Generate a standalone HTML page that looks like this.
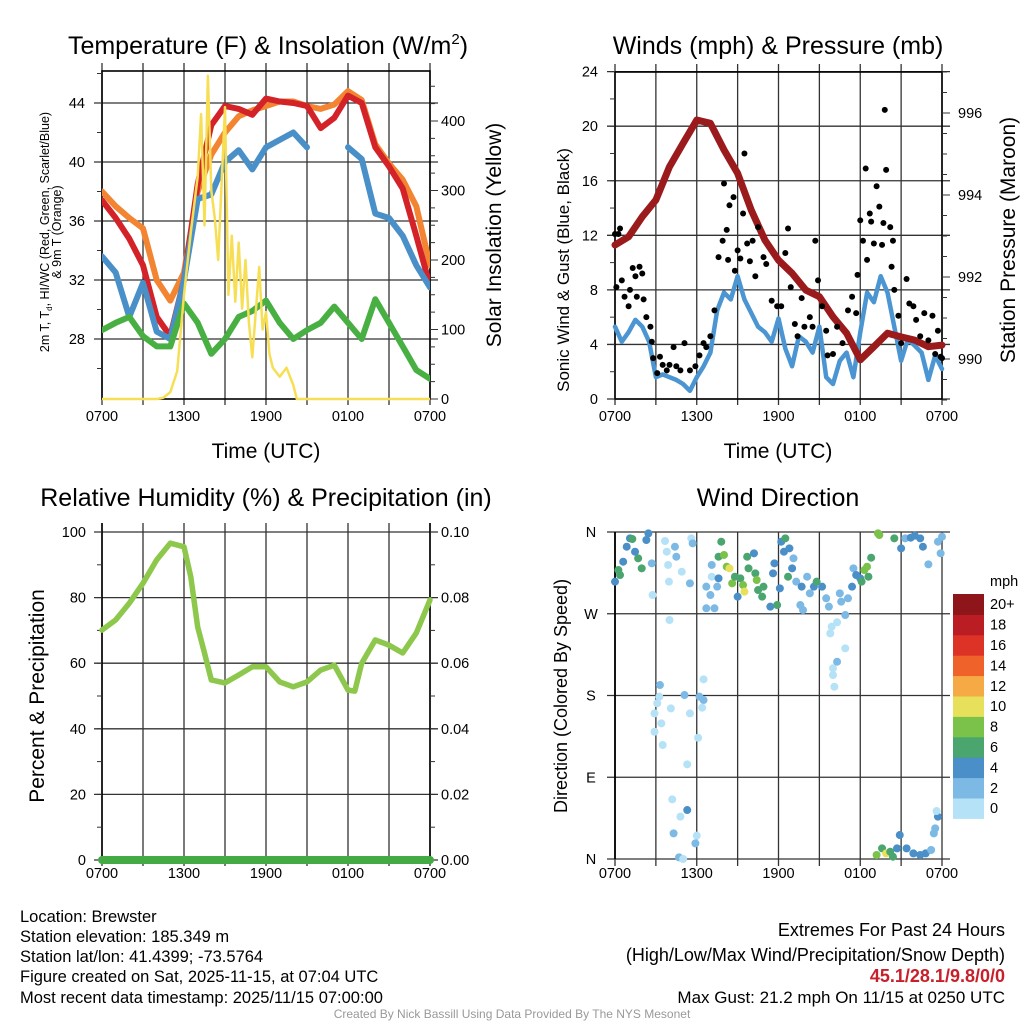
<!DOCTYPE html>
<html><head><meta charset="utf-8">
<style>
html,body{margin:0;padding:0;background:#fff;}
svg{display:block;font-family:"Liberation Sans",Arial,sans-serif;}
</style></head>
<body>
<svg id="chart" width="1024" height="1024" viewBox="0 0 1024 1024" xmlns="http://www.w3.org/2000/svg">
<rect x="0" y="0" width="1024" height="1024" fill="#fff"/>
<g id="g1"></g>
<g id="g2"></g>
<g id="g3"></g>
<g id="g4"></g>
<text x="268" y="54" font-size="25" text-anchor="middle">Temperature (F) &amp; Insolation (W/m<tspan font-size="15" dy="-10">2</tspan><tspan dy="10">)</tspan></text>
<text x="778" y="54" font-size="25" text-anchor="middle">Winds (mph) &amp; Pressure (mb)</text>
<text x="266" y="506" font-size="25" text-anchor="middle">Relative Humidity (%) &amp; Precipitation (in)</text>
<text x="778" y="506" font-size="25" text-anchor="middle">Wind Direction</text>
<text x="266" y="458" font-size="21" text-anchor="middle">Time (UTC)</text>
<text x="778" y="458" font-size="21" text-anchor="middle">Time (UTC)</text>
<text transform="translate(49,232) rotate(-90)" font-size="12.5" text-anchor="middle">2m T, T<tspan font-size="8" dy="3">d</tspan><tspan dy="-3">, HI/WC (Red, Green, Scarlet/Blue)</tspan></text>
<text transform="translate(61,232) rotate(-90)" font-size="12.5" text-anchor="middle">&amp; 9m T (Orange)</text>
<text transform="translate(501,235) rotate(-90)" font-size="21" text-anchor="middle">Solar Insolation (Yellow)</text>
<text transform="translate(569,270) rotate(-90)" font-size="17" text-anchor="middle">Sonic Wind &amp; Gust (Blue, Black)</text>
<text transform="translate(1015,240) rotate(-90)" font-size="21" text-anchor="middle">Station Pressure (Maroon)</text>
<text transform="translate(44,696) rotate(-90)" font-size="21" text-anchor="middle">Percent &amp; Precipitation</text>
<text transform="translate(567,696) rotate(-90)" font-size="18" text-anchor="middle">Direction (Colored By Speed)</text>
<g font-size="16.5">
<text x="20" y="922">Location: Brewster</text>
<text x="20" y="942">Station elevation: 185.349 m</text>
<text x="20" y="962">Station lat/lon: 41.4399; -73.5764</text>
<text x="20" y="982">Figure created on Sat, 2025-11-15, at 07:04 UTC</text>
<text x="20" y="1003">Most recent data timestamp: 2025/11/15 07:00:00</text>
</g>
<g font-size="18" text-anchor="end">
<text x="1005" y="936">Extremes For Past 24 Hours</text>
<text x="1005" y="961">(High/Low/Max Wind/Precipitation/Snow Depth)</text>
<text x="1005" y="982" font-weight="bold" fill="#c8202a">45.1/28.1/9.8/0/0</text>
<text x="1005" y="1003" font-size="17">Max Gust: 21.2 mph On 11/15 at 0250 UTC</text>
</g>
<text x="512" y="1018" font-size="12" fill="#999" text-anchor="middle">Created By Nick Bassill Using Data Provided By The NYS Mesonet</text>
</svg>
<script>
// ---- data ----
const hoursHourly=[0,1,2,3,4,5,6,7,8,9,10,11,12,13,14,15,16,17,18,19,20,21,22,23,24];
const tempRed=[37.4,36.2,34.8,33.0,29.5,28.2,32.0,38.5,42.5,43.8,43.6,43.2,44.3,44.1,44.0,43.8,42.3,43.0,44.5,44.0,41.0,39.7,38.2,35.0,31.6];
const temp9m=[38.0,37.0,36.2,35.5,32.0,30.6,32.5,38.0,40.5,42.0,43.1,43.5,43.8,44.1,44.1,43.8,43.6,43.9,44.8,44.2,41.2,39.9,38.8,37.0,33.0];
const windChill=[33.6,32.5,29.5,31.8,28.5,28.0,32.0,37.5,37.8,40.0,40.8,39.5,41.0,41.5,42.0,41.0,null,null,41.0,40.2,36.5,36.2,35.0,33.0,31.5];
const dewPoint=[28.6,29.1,29.5,28.2,27.5,27.5,30.4,29.1,27.0,28.0,29.5,29.9,30.6,29.1,28.0,28.6,29.1,30.2,29.1,28.0,30.7,29.1,27.5,25.9,25.3];
const solarHours=[0,4,4.5,5,5.5,6,6.5,7,7.25,7.5,7.75,8,8.25,8.5,9,9.25,9.5,9.75,10,10.25,10.5,10.75,11,11.5,11.75,12,12.25,12.5,13,13.5,14,14.25,24];
const solarValues=[0,0,2,10,40,150,240,320,410,250,465,300,260,200,420,150,235,140,225,130,200,110,60,190,100,125,65,45,32,45,20,0,0];
const windHours=[0,0.5,1,1.5,2,2.5,3,3.5,4,4.5,5,5.5,6,6.5,7,7.5,8,8.5,9,9.5,10,10.5,11,11.5,12,12.5,13,13.5,14,14.5,15,15.5,16,16.5,17,17.5,18,18.5,19,19.5,20,20.5,21,21.5,22,22.5,23,23.5,24];
const sonicWind=[5.3,4.2,4.9,5.8,5.3,4.2,1.6,1.8,1.6,1.4,1.1,0.6,1.6,2.4,3.4,6.5,7.8,7.3,9.0,7.3,6.3,5.3,4.9,4.2,5.9,3.7,2.4,4.6,4.2,3.4,5.3,1.6,1.1,2.8,3.4,1.6,4.9,7.8,7.1,9.0,7.8,5.3,2.8,4.4,3.9,3.4,1.4,3.2,2.2];
const pressure=[992.78,992.98,993.47,993.88,994.69,995.26,995.83,995.75,995.1,994.53,993.63,992.9,992.41,992.09,991.68,991.52,991.03,990.63,989.98,990.3,990.63,990.54,990.46,990.3,990.34];
const gustHours=[0,0.1,0.25,0.37,0.5,0.7,1.0,1.1,1.3,1.5,1.6,1.8,2.0,2.1,2.3,2.6,2.7,2.8,3.1,3.3,3.5,3.8,4.0,4.3,4.5,4.8,5.1,5.5,5.9,6.2,6.5,6.7,7.0,7.3,7.6,7.9,8.0,8.2,8.3,8.4,8.7,8.8,9.0,9.2,9.4,9.5,9.7,9.9,10.1,10.3,10.5,10.9,11.1,11.5,11.9,12.2,12.5,12.7,12.9,13.2,13.4,13.7,13.9,14.3,14.5,14.7,14.9,15.2,15.5,15.6,16.0,16.3,16.7,17.1,17.4,17.7,17.8,18.0,18.2,18.4,18.5,18.7,18.8,19.0,19.2,19.4,19.6,19.7,19.8,19.9,20.2,20.3,20.4,20.5,20.8,21.0,21.4,21.6,21.9,22.1,22.4,22.7,23.0,23.3,23.5,23.7,23.9,24.0];
const gustValues=[12.1,8.2,12.1,12.5,8.7,7.5,6.8,8.0,9.6,9.0,7.5,9.7,9.2,7.3,6.0,5.3,4.2,3.0,1.9,3.1,2.5,2.1,2.5,3.8,2.4,2.1,4.1,2.1,2.4,3.2,4.1,3.8,4.6,6.5,10.4,11.6,15.8,12.4,10.2,14.2,14.8,9.4,10.9,10.3,13.6,18.0,11.4,10.1,11.6,9.0,12.6,10.4,9.9,7.2,6.8,6.8,10.7,12.5,8.2,5.5,4.6,7.4,5.3,6.0,5.3,11.6,8.7,6.8,5.0,3.2,3.3,5.3,4.1,6.5,7.5,6.3,9.1,13.1,11.6,16.9,10.2,13.6,13.0,11.4,15.6,14.1,11.3,12.9,21.2,16.8,12.6,9.7,11.6,8.0,6.1,4.1,8.8,7.0,6.8,5.8,4.6,6.3,4.3,6.1,3.3,5.0,3.1,3.0];
const rhHours=[0,1,2,3,4,5,6,6.5,7,7.5,8,9,10,11,12,13,14,15,16,17,18,18.5,19,20,21,22,23,24];
const rhValues=[70.1,73.2,78.3,84.4,91.5,96.6,95.5,86.3,71,63.1,54.9,54,56.4,58.9,58.9,54.3,52.8,54.3,57.9,59.4,51.8,51.5,60,67.1,65.5,63.1,69.2,79.3];
const precipHours=[0,24];
const precipValues=[0,0];
const dirHours=[0,0.25,0.37,0.6,0.86,1.1,1.27,1.47,1.7,1.96,2.3,2.45,2.7,2.76,3.67,3.8,3.9,3.96,4.0,4.4,4.5,4.9,5.5,5.6,5.7,6.7,7.0,6.7,7.1,7.1,7.3,7.5,7.6,7.8,7.6,8.0,8.2,8.4,8.6,8.8,9.0,9.2,9.4,9.5,9.7,9.8,10.2,10.3,10.4,10.5,10.8,10.9,11.4,11.6,11.7,11.9,12.1,12.2,12.5,12.4,12.7,12.8,13.0,13.1,13.3,13.6,13.7,13.8,14.1,14.3,14.6,14.8,15.2,15.5,15.7,16.0,16.1,16.0,16.3,16.9,15.8,15.9,16.3,16.5,16.6,16.9,17.1,17.4,17.5,17.7,18.0,18.1,18.3,18.5,18.6,18.8,19.3,19.4,20.5,21.0,21.3,21.7,22.0,22.4,22.6,23.0,23.7,23.9,24.0,3.3,3.25,3.1,2.9,2.9,3.4,3.5,4.1,5.1,5.5,5.3,6.2,6.5,6.5,6.4,6.1,4.2,4.8,5.3,4.3,5.9,6.0,4.7,5.0,19.2,19.6,19.9,20.2,20.4,20.7,20.9,21.4,21.9,22.4,22.8,23.2,23.4,23.5,23.7,23.6];
const dirDegrees=[305.3,318.1,312.6,327.3,343.8,353,352.3,338.3,331,320,351.2,358.5,325.5,290.6,350.1,338.3,323.7,305.3,263.1,343.8,332.8,316.3,303.5,353,347.5,299.8,290.6,276,323.7,310.8,276,299.8,309,349.3,332.8,334.7,321.8,320,303.5,310.8,288.8,309,301.6,294.3,332.8,320,336.5,314.5,307.1,296.1,288.8,299.8,277.8,314.5,325.5,279.6,298,349.3,353,338.3,310.8,342,320,331,305.3,279.6,299.8,274.1,310.8,292.5,299.8,305.3,299.8,287,277.8,202.5,189.7,210,217.2,231.9,248.4,255.8,260.6,292.5,283.3,268.6,287,299.8,320,312.6,309,305.3,318.1,321.8,310.8,331.7,358.5,356.7,353,342,353,353.7,356,353,343.8,324.4,349.3,336.5,354.8,191.5,178.7,171.4,160.3,140.1,149.3,125.5,165.8,180.5,160.3,104.2,178.7,175,197.8,166.6,133.5,65.7,46.6,53.9,28.2,17.2,25.7,1.8,0,4.4,11.7,6.2,8,2.5,11.7,26.4,11.7,6.2,4.4,6.2,9.9,28.2,33.7,46.6,52.8];
const dirSpeeds=[5,7,7,5,5,5,7,5,7,7,5,5,3,1,1,1,1,1,1,3,3,1,3,1,3,3,3,3,3,1,3,3,5,7,7,9,9,11,9,7,5,7,9,11,7,7,5,7,9,7,7,7,5,5,5,7,5,5,7,5,7,5,5,3,3,3,5,3,3,3,5,7,5,3,3,1,1,1,3,1,1,1,1,3,3,3,3,5,3,5,5,7,9,9,7,7,9,9,7,5,3,5,5,5,5,3,3,3,3,3,1,1,1,1,1,1,1,3,1,1,3,3,1,1,1,1,1,5,3,3,1,3,1,9,7,11,7,7,5,5,5,5,5,5,3,3,3,5,1];
const tempTicks=[28,32,36,40,44];
const solarTicks=[0,100,200,300,400];
const mphTicks=[0,4,8,12,16,20,24];
const presTicks=[990,992,994,996];
const rhTicks=[0,20,40,60,80,100];
const precipTicks=["0.00","0.02","0.04","0.06","0.08","0.10"];
const dirTicks=[0,90,180,270,360];
const dirLabels=["N","E","S","W","N"];
const timeLabels=["0700","1300","1900","0100","0700"];
const speedBins=[0,2,4,6,8,10,12,14,16,18,20];
const speedLabels=["0","2","4","6","8","10","12","14","16","18","20+"];
const binColors=["#b5e2f7","#7cb9e4","#4a8fc8","#4aa56e","#7bc24a","#e6e05a","#f6aa46","#ef6229","#dd3327","#bb1d24","#8e1519"];

// ---- helpers ----
const NS="http://www.w3.org/2000/svg";
function mk(parent,tag,attrs){const e=document.createElementNS(NS,tag);for(const k in attrs)e.setAttribute(k,attrs[k]);parent.appendChild(e);return e;}
function tx(x0,x1){return h=>x0+h*(x1-x0)/24;}
function pathFrom(xs,ys,fx,fy){let d="",pen=false;for(let i=0;i<xs.length;i++){if(ys[i]===null){pen=false;continue;}d+=(pen?"L":"M")+fx(xs[i]).toFixed(1)+","+fy(ys[i]).toFixed(1);pen=true;}return d;}
function grid(g,x0,x1,yTop,yBot,hLines,vTop,vBot){
  for(let i=0;i<=8;i++){const x=x0+i*(x1-x0)/8;const l=mk(g,"line",{x1:x,x2:x,y1:vTop,y2:vBot,stroke:"#333","stroke-width":1.3});
  
  }
  hLines.forEach(y=>{const l=mk(g,"line",{x1:x0-8,x2:x1+8,y1:y,y2:y,stroke:"#333","stroke-width":1.3});
  
  });
}
function timeAxis(g,x0,x1,y){const f=tx(x0,x1);timeLabels.forEach((t,i)=>{const e=mk(g,"text",{x:f(i*6),y:y,"font-size":14.5,"text-anchor":"middle"});e.textContent=t;
  
  });}
function label(g,x,y,t,anchor,size){const e=mk(g,"text",{x:x,y:y,"font-size":size||14.5,"text-anchor":anchor});e.textContent=t;return e;}

// ---- Panel 1 ----
(function(){
const g=document.getElementById("g1");const x0=102,x1=430,yT=71,yB=399;const fx=tx(x0,x1);
const fy=t=>103+(44-t)*14.75;const fs=w=>399-w*0.695;
grid(g,x0,x1,yT,yB,tempTicks.map(fy),63,405);
const box=mk(g,"rect",{x:x0,y:yT,width:x1-x0,height:yB-yT,fill:"none",stroke:"#000","stroke-width":1.6});


for(let t=26;t<=46;t+=2){mk(g,"line",{x1:x0-5,x2:x0,y1:fy(t),y2:fy(t),stroke:"#333"});}
for(let w=0;w<=450;w+=25){mk(g,"line",{x1:x1,x2:x1+(w%100===0?8:5),y1:fs(w),y2:fs(w),stroke:"#333"});}
tempTicks.forEach(t=>{const e=label(g,85,fy(t)+5,String(t),"end");

});
solarTicks.forEach(w=>{const e=label(g,441,fs(w)+5,String(w),"start");

});
timeAxis(g,x0,x1,421);
const cp=mk(g,"clipPath",{id:"c1"});mk(cp,"rect",{x:x0,y:yT,width:x1-x0,height:yB-yT+3});
const pg=mk(g,"g",{"clip-path":"url(#c1)","fill":"none","stroke-linejoin":"round","stroke-linecap":"round"});
const s=[[temp9m,"#f28432","temp-9m-line"],[tempRed,"#d32228","temp-2m-line"],[windChill,"#4a90c8","wind-chill-line"],[dewPoint,"#48b043","dewpoint-line"]];
s.forEach(([arr,c,n])=>{const p=mk(pg,"path",{d:pathFrom(hoursHourly,arr,fx,fy),stroke:c,"stroke-width":6});

});
const sp=mk(pg,"path",{d:pathFrom(solarHours,solarValues,fx,fs),stroke:"#f7df55","stroke-width":2.5});


})();

// ---- Panel 2 ----
(function(){
const g=document.getElementById("g2");const x0=615,x1=942,yT=72,yB=399;const fx=tx(x0,x1);
const fy=m=>399-m*13.64;const fp=p=>113+(996-p)*41;
grid(g,x0,x1,yT,yB,mphTicks.map(fy),64,405);
const box=mk(g,"rect",{x:x0,y:yT,width:x1-x0,height:yB-yT,fill:"none",stroke:"#000","stroke-width":1.6});


for(let p=989;p<=997.01;p+=0.5){mk(g,"line",{x1:x1,x2:x1+(Math.abs(p%2)<0.01?8:5),y1:fp(p),y2:fp(p),stroke:"#333"});}
for(let m=0;m<=24;m+=2){mk(g,"line",{x1:x0-5,x2:x0,y1:fy(m),y2:fy(m),stroke:"#333"});}
mphTicks.forEach(m=>{const e=label(g,598,fy(m)+5,String(m),"end");

});
presTicks.forEach(p=>{const e=label(g,958,fp(p)+5,String(p),"start");

});
timeAxis(g,x0,x1,421);
const pg=mk(g,"g",{"fill":"none","stroke-linejoin":"round","stroke-linecap":"round"});
const w=mk(pg,"path",{d:pathFrom(windHours,sonicWind,fx,fy),stroke:"#4a95d2","stroke-width":4.5});


gustHours.forEach((h,i)=>{const c=mk(g,"circle",{cx:fx(h),cy:fy(gustValues[i]),r:3,fill:"#000"});

});
const pr=mk(pg,"path",{d:pathFrom(hoursHourly,pressure,fx,fp),stroke:"#9b1b1d","stroke-width":7});


})();

// ---- Panel 3 ----
(function(){
const g=document.getElementById("g3");const x0=102,x1=430,yB=860;const fx=tx(x0,x1);
const fy=r=>860-r*3.28;
grid(g,x0,x1,523,yB,rhTicks.map(fy),523,866);
[[x0,523,x0,yB],[x1,523,x1,yB],[x0,yB,x1,yB]].forEach(a=>mk(g,"line",{x1:a[0],y1:a[1],x2:a[2],y2:a[3],stroke:"#000","stroke-width":1.6}));
for(let r=0;r<=100;r+=10){mk(g,"line",{x1:x0-5,x2:x0,y1:fy(r),y2:fy(r),stroke:"#333"});mk(g,"line",{x1:x1,x2:x1+5,y1:fy(r),y2:fy(r),stroke:"#333"});}
rhTicks.forEach(r=>{const e=label(g,86,fy(r)+5,String(r),"end");

});
precipTicks.forEach((t,i)=>{const e=label(g,441,fy(i*20)+5,t,"start");

});
timeAxis(g,x0,x1,878);
const pp=mk(g,"path",{d:pathFrom(precipHours,precipValues.map(v=>v*1000),fx,fy),stroke:"#44aa44","stroke-width":8,"stroke-linecap":"round",fill:"none"});


const rp=mk(g,"path",{d:pathFrom(rhHours,rhValues,fx,fy),stroke:"#8dc84c","stroke-width":5.5,fill:"none","stroke-linejoin":"round","stroke-linecap":"round"});


})();

// ---- Panel 4 ----
(function(){
const g=document.getElementById("g4");const x0=615,x1=942,yT=532,yB=859;const fx=tx(x0,x1);
const fy=d=>859-d*327/360;
grid(g,x0,x1,yT,yB,dirTicks.map(fy),532,866);
mk(g,"line",{x1:x0,y1:yT,x2:x0,y2:yB,stroke:"#000","stroke-width":1.8});
dirTicks.forEach((d,i)=>{const e=label(g,591,fy(d)+5,dirLabels[i],"middle");

});
timeAxis(g,x0,x1,878);
function colorFor(s){let k=0;for(let i=0;i<speedBins.length;i++){if(s>=speedBins[i])k=i;}return binColors[k];}
dirHours.forEach((h,i)=>{const c=mk(g,"circle",{cx:fx(h),cy:fy(dirDegrees[i]),r:4,fill:colorFor(dirSpeeds[i])});

});
const cb=mk(g,"g",{});


const top=594,bh=20.4;
const t=label(cb,990,586,"mph","start");


binColors.forEach((c,i)=>{const y=top+(10-i)*bh;const r=mk(cb,"rect",{x:953,y:y,width:31,height:bh+0.5,fill:c});


const e=label(cb,990,y+bh/2+5,speedLabels[i],"start");

});
})();
</script>
</body></html>
